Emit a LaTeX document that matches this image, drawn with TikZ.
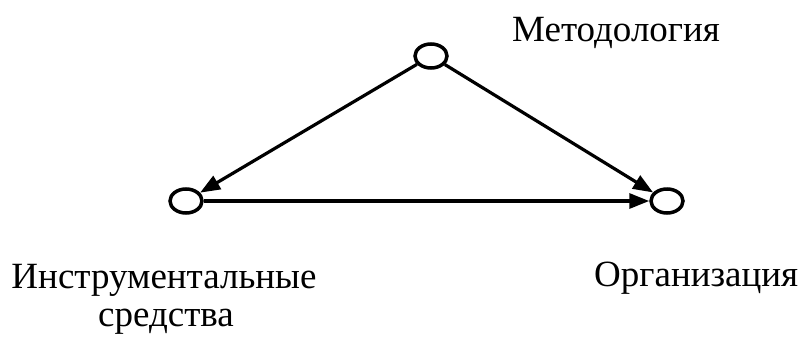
\documentclass[tikz,border=0pt]{standalone}
\usepackage{fontspec}
\setmainfont{Liberation Serif}
\usetikzlibrary{arrows.meta,shapes.geometric}
\begin{document}
\begin{tikzpicture}[x=1pt,y=-1pt,
  vtx/.style={ellipse,draw,line width=3.5pt,minimum width=32pt,minimum height=24pt,inner sep=0pt},
  arr/.style={line width=3.2pt,-{Triangle[length=20pt,width=15pt]}},
  lbl/.style={font=\fontsize{37}{40}\selectfont,inner sep=0pt}]
\useasboundingbox (0,0) rectangle (801,338);
\node[vtx] (t) at (431,56) {};
\node[vtx] (l) at (186,201) {};
\node[vtx] (r) at (667,201) {};
\draw[arr] (t) -- (l);
\draw[arr] (t) -- (r);
\draw[arr] (l) -- (r);
\node[lbl,anchor=base west] (mt) at (512,41) {Методология};
\node[lbl,anchor=base] (in1) at (164,288) {Инструментальные};
\node[lbl,anchor=base] (in2) at (166,326) {средства};
\node[lbl,anchor=base west] (org) at (594,286) {Организация};
\end{tikzpicture}
\end{document}
